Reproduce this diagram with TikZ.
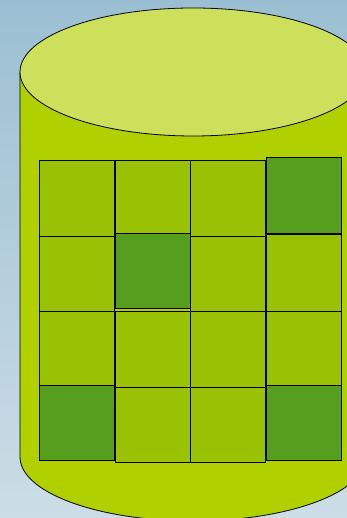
\documentclass[tikz,border=0pt]{standalone}
\usepackage{xcolor}
\usepackage{tikz}
\usetikzlibrary{positioning}
\definecolor{SkyTop}{HTML}{9BBFD2}
\definecolor{SkyBottom}{HTML}{CCDDE6}
\definecolor{CylTop}{HTML}{CDE05C}
\definecolor{CylBody}{HTML}{B0D000}
\definecolor{CellLight}{HTML}{99C205}
\definecolor{CellDark}{HTML}{559E1E}

\begin{document}
\begin{tikzpicture}[x=1pt, y=1pt,
  outline/.style={draw=black, line width=0.8pt},
  cell/.style={outline, fill=#1},
  cell/.default={CellLight}
]
  \useasboundingbox (0,0) rectangle (347,518);
  \clip (0,0) rectangle (347,518);

  % Background
  \shade[top color=SkyTop, bottom color=SkyBottom] (0,0) rectangle (347,518);

  % Cylinder body and lid
  \draw[outline, fill=CylBody] (20,446) -- (20,61)
    arc[start angle=180, end angle=360, x radius=173, y radius=64]
    -- (366,446) -- cycle;
  \draw[outline, fill=CylTop] (193,446) ellipse[x radius=173, y radius=64];

  % Grid of cells: left / top / bottom / colour
  \foreach \x/\t/\b/\c in {39/358/282/CellLight, 115/358/285/CellLight,
                           190/358/282/CellLight, 266/361/285/CellDark,
                           39/282/207/CellLight, 115/285/210/CellDark,
                           190/282/207/CellLight, 266/284/207/CellLight,
                           39/207/133/CellLight, 115/207/131/CellLight,
                           190/207/131/CellLight, 266/207/133/CellLight,
                           39/133/58/CellDark, 115/131/56/CellLight,
                           190/131/56/CellLight, 266/133/58/CellDark} {
    \draw[cell=\c] (\x,\b) rectangle ++(75.5,\t-\b);
  }
\end{tikzpicture}
\end{document}
